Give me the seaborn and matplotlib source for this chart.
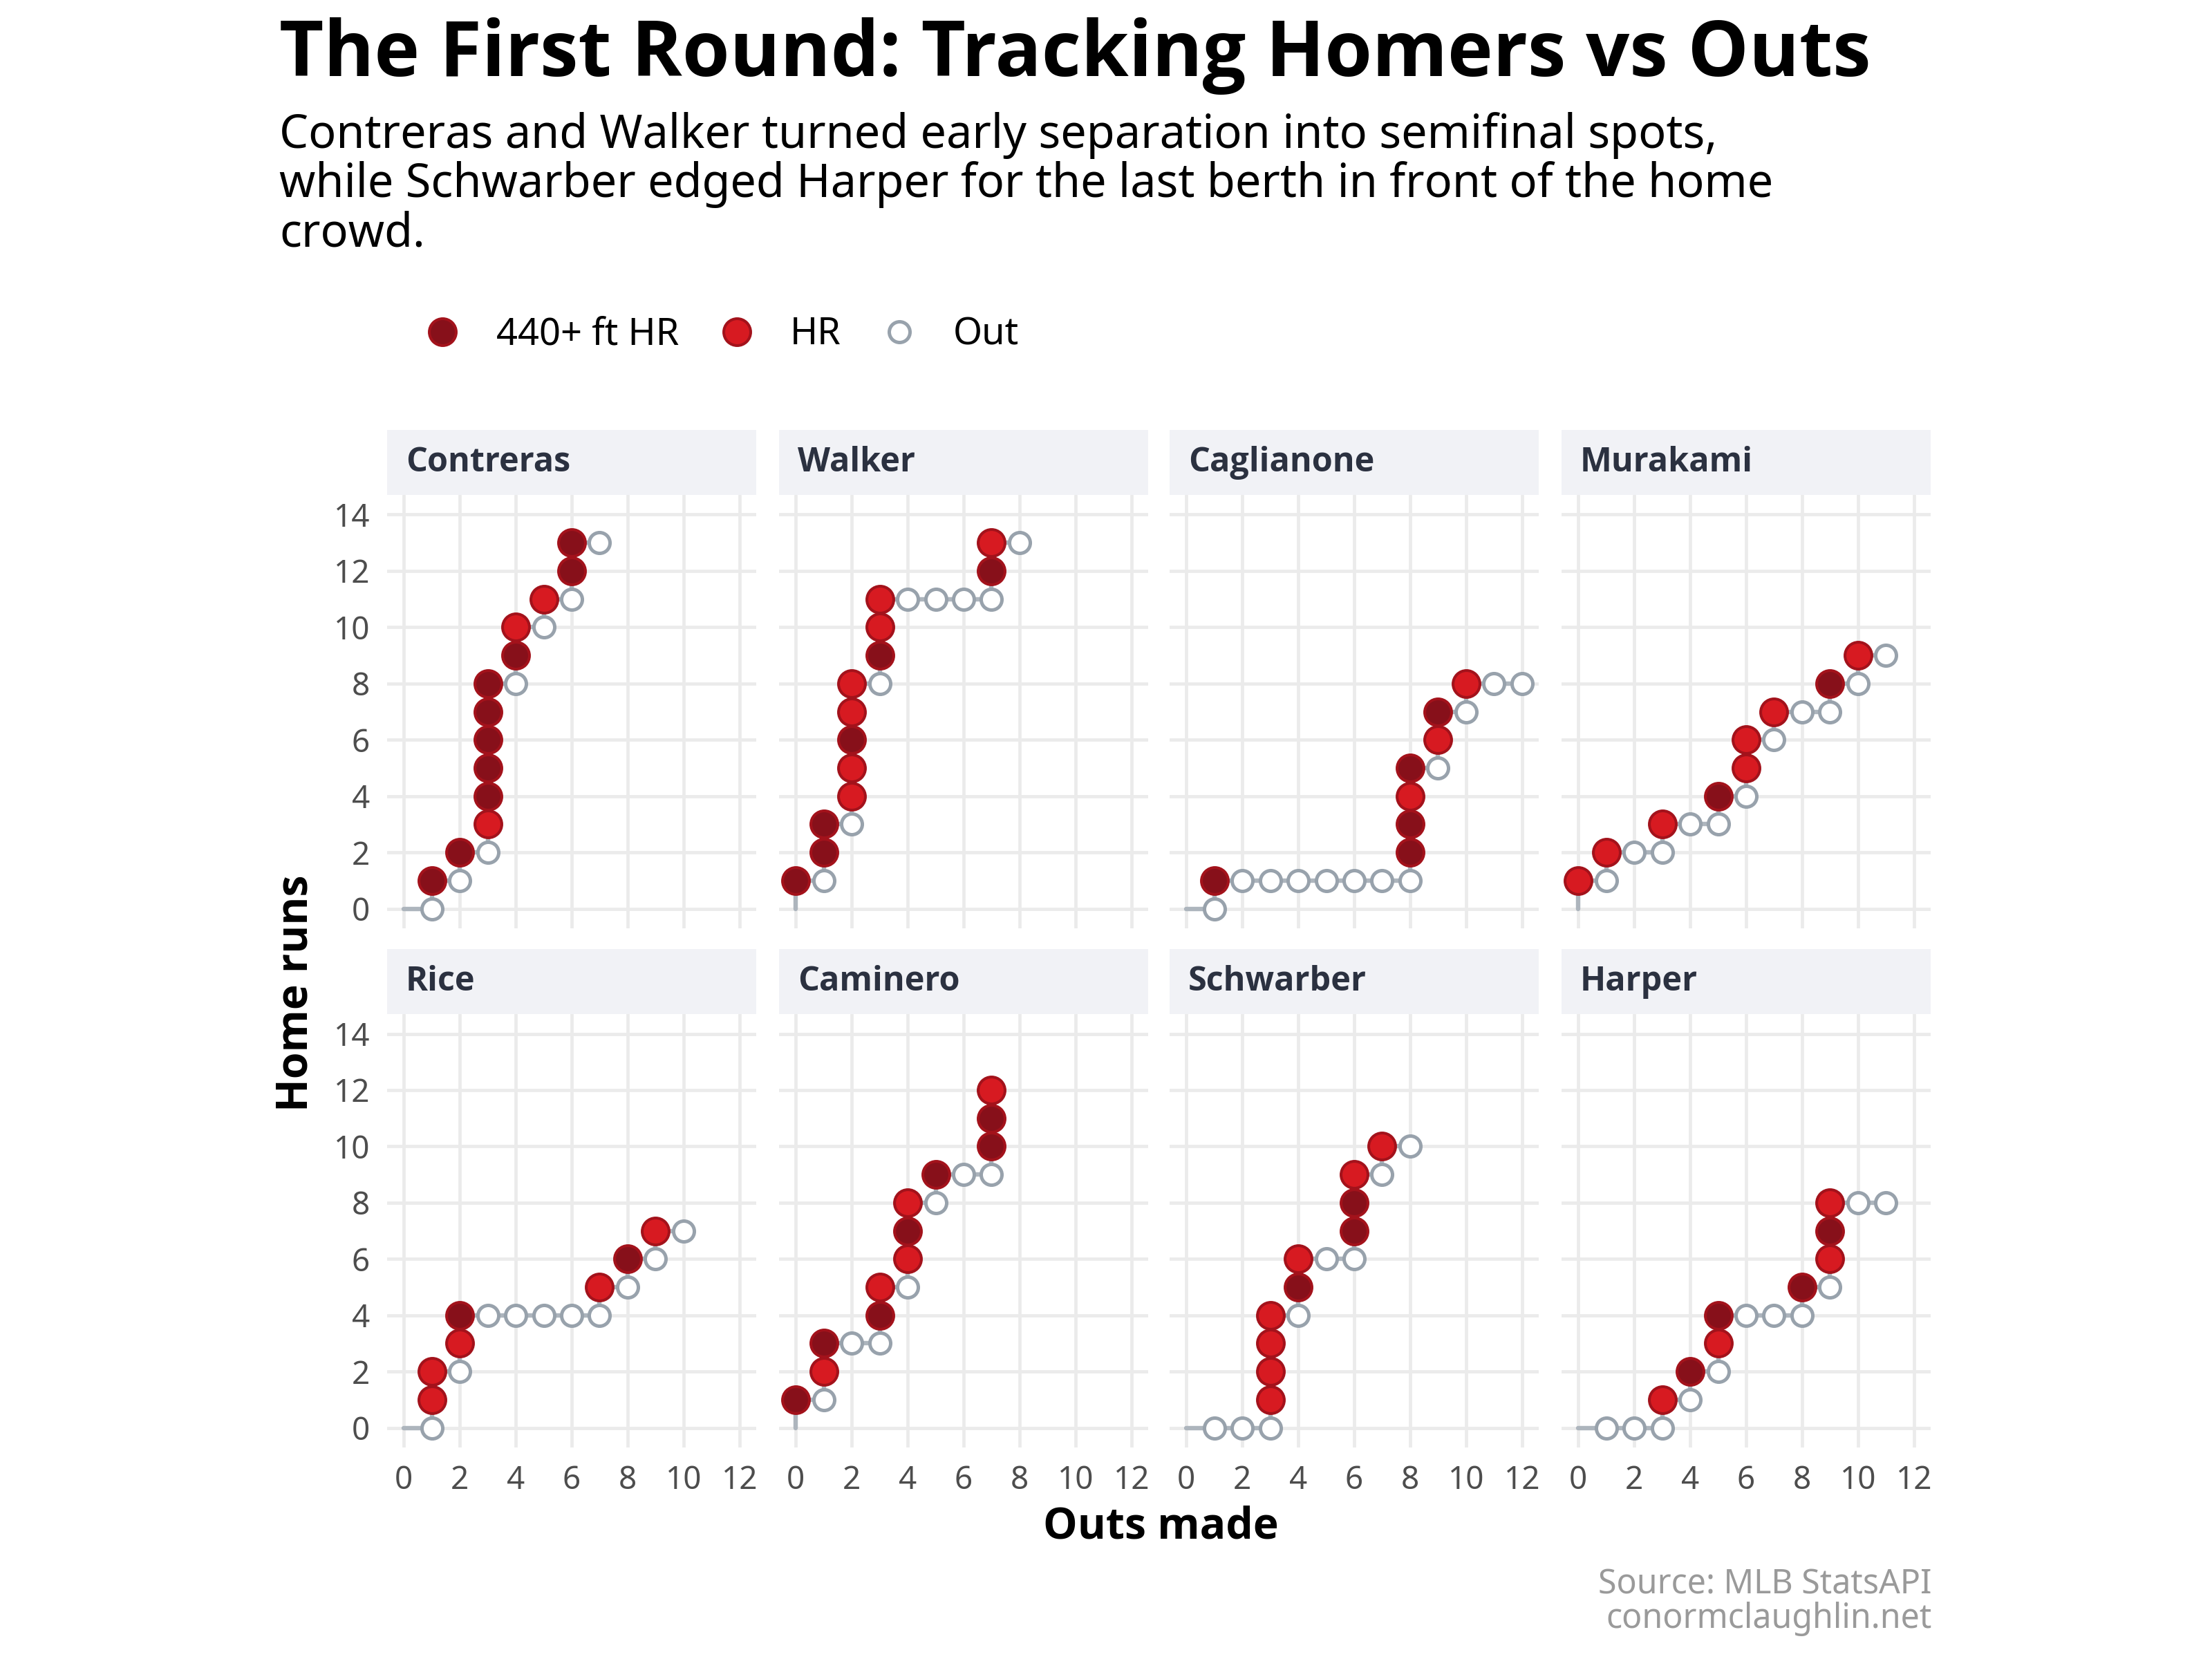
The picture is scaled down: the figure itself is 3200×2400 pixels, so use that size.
""" Home Run Derby first round: homers vs outs, one panel per hitter """

import numpy as np
import pandas as pd
import matplotlib.pyplot as plt
import seaborn as sns
from matplotlib import font_manager as fm
from matplotlib.lines import Line2D
from matplotlib.patches import Rectangle

# event sequences: O = out, H = homer, L = 440+ ft homer
players = ['Contreras', 'Walker', 'Caglianone', 'Murakami',
           'Rice', 'Caminero', 'Schwarber', 'Harper']
events = {
    'Contreras':  'OLOLOHLLLLLOLHOHOLLO',
    'Walker':     'LOLLOHHLHHOLHHOOOOLHO',
    'Caglianone': 'OLOOOOOOOLLHLOHLOHOO',
    'Murakami':   'HOHOOHOOLOHHOHOOLOHO',
    'Rice':       'OHHOHLOOOOOHOLOHO',
    'Caminero':   'LOHLOOLHOHLHOLOOLLH',
    'Schwarber':  'OOOHHHHOLHOOLLHOHO',
    'Harper':     'OOOHOLOHLOOOLOHLHOO',
}
kind_names = {'O': 'Out', 'H': 'HR', 'L': '440+ ft HR'}
x_ticks = [0, 2, 4, 6, 8, 10, 12]
y_ticks = [0, 2, 4, 6, 8, 10, 12, 14]

title = 'The First Round: Tracking Homers vs Outs'
subtitle = ('Contreras and Walker turned early separation into semifinal spots,\n'
            'while Schwarber edged Harper for the last berth in front of the home\n'
            'crowd.')
caption = 'Source: MLB StatsAPI\nconormclaughlin.net'

# colours
long_fill = '#87101a'
hr_fill = '#d71a21'
hr_edge = '#a3121b'
out_edge = '#98a2ac'
path_col = '#adb5bd'

# build a long table: each event moves one step right (out) or up (homer)
rows = []
for p in players:
    outs, hrs = 0, 0
    rows.append(dict(player=p, step=0, outs=0, hr=0, kind='start'))
    for i, ev in enumerate(events[p], start=1):
        if ev == 'O':
            outs += 1
        else:
            hrs += 1
        rows.append(dict(player=p, step=i, outs=outs, hr=hrs, kind=kind_names[ev]))
df = pd.DataFrame(rows)


def has_bold(family):
    for f in fm.fontManager.ttflist:
        if f.name != family:
            continue
        w = f.weight
        if isinstance(w, str):
            w = fm.weight_dict.get(w, 400)
        if w >= 700:
            return True
    return False


bold_family = 'DejaVu Sans'
for fam in ['Noto Sans', 'Open Sans', 'Roboto', 'Lato', 'Liberation Sans']:
    if has_bold(fam):
        bold_family = fam
        break

sns.set_theme(style='whitegrid')
plt.rcParams['font.family'] = ['Noto Sans', 'DejaVu Sans']
plt.rcParams['grid.color'] = '#ebebeb'
plt.rcParams['grid.linewidth'] = 1.7
bold_font = [bold_family, 'DejaVu Sans']


def draw_path(data, **kws):
    ax = plt.gca()
    sns.lineplot(data=data, x='outs', y='hr', sort=False, estimator=None,
                 color=path_col, linewidth=2.3, solid_capstyle='round',
                 ax=ax, zorder=2)
    d = data[data.kind == 'Out']
    sns.scatterplot(data=d, x='outs', y='hr', s=117, color='white',
                    edgecolor=out_edge, linewidth=1.8, ax=ax, zorder=3)
    d = data[data.kind == 'HR']
    sns.scatterplot(data=d, x='outs', y='hr', s=196, color=hr_fill,
                    edgecolor=hr_edge, linewidth=1.45, ax=ax, zorder=4)
    d = data[data.kind == '440+ ft HR']
    sns.scatterplot(data=d, x='outs', y='hr', s=196, color=long_fill,
                    edgecolor=hr_edge, linewidth=1.45, ax=ax, zorder=5)


g = sns.FacetGrid(df, col='player', col_wrap=4, col_order=players,
                  sharex=True, sharey=True, height=3, aspect=1)
g.map_dataframe(draw_path)
fig = g.figure
fig.set_size_inches(16, 12)
fig.set_dpi(200)

W, H = 3200, 2400
col_left = [560, 1127, 1692, 2259]
row_top = [716, 1467]
ax_w, ax_h = 534, 627
strip_h = 94

for i, ax in enumerate(g.axes.flat):
    r, c = divmod(i, 4)
    ax.set_position([col_left[c] / W, 1 - (row_top[r] + ax_h) / H,
                     ax_w / W, ax_h / H])
    ax.set_xlim(-0.6, 12.6)
    ax.set_ylim(-0.7, 14.7)
    ax.set_xticks(x_ticks)
    ax.set_yticks(y_ticks)
    ax.set_title('')
    ax.set_xlabel('')
    ax.set_ylabel('')
    ax.set_axisbelow(True)
    for s in ax.spines.values():
        s.set_visible(False)
    ax.tick_params(length=0, pad=9, labelsize=16.5, labelcolor='#4d4d4d')
    if c != 0:
        ax.tick_params(labelleft=False)
    if r != 1:
        ax.tick_params(labelbottom=False)
    # facet strip
    ax.add_patch(Rectangle((0, 1), 1, strip_h / ax_h, transform=ax.transAxes,
                           facecolor='#f1f2f6', edgecolor='none', clip_on=False))
    ax.text(27 / ax_w, 1 + strip_h / ax_h / 2, players[i], transform=ax.transAxes,
            ha='left', va='center', fontsize=17.5, fontweight='bold',
            family=bold_font, color='#2b3140')

fig.text(404 / W, 1 - 110 / H, title, fontsize=40, fontweight='bold',
         family=bold_font, ha='left', va='baseline', color='black')
# multi-line text with va='baseline' sits on the last line's baseline
fig.text(404 / W, 1 - 357 / H, subtitle, fontsize=24, ha='left',
         va='baseline', linespacing=1.07, color='black')

handles = [
    Line2D([], [], ls='none', marker='o', markersize=14, markerfacecolor=long_fill,
           markeredgecolor=hr_edge, markeredgewidth=1.45),
    Line2D([], [], ls='none', marker='o', markersize=14, markerfacecolor=hr_fill,
           markeredgecolor=hr_edge, markeredgewidth=1.45),
    Line2D([], [], ls='none', marker='o', markersize=10.8, markerfacecolor='white',
           markeredgecolor=out_edge, markeredgewidth=1.8),
]
leg = fig.legend(handles, ['440+ ft HR', 'HR', 'Out'], loc='center left',
                 bbox_to_anchor=(613 / W, 1 - 484 / H), ncol=3, frameon=False,
                 fontsize=19.5, handlelength=1.0, handletextpad=0.93,
                 columnspacing=1.05, borderpad=0, borderaxespad=0)
for t in leg.get_texts():
    t.set_color('black')

fig.text(428 / W, 1 - 1437 / H, 'Home runs', rotation=90, fontsize=22.5,
         fontweight='bold', family=bold_font, ha='center', va='center',
         color='black')
fig.text(1679 / W, 1 - 2226 / H, 'Outs made', fontsize=22.5,
         fontweight='bold', family=bold_font, ha='center', va='baseline',
         color='black')
fig.text(2795 / W, 1 - 2355 / H, caption, fontsize=17.4, ha='right',
         va='baseline', color='#9a9a9a', linespacing=1.0)

fig.savefig('out.png', dpi=200, facecolor='white')
